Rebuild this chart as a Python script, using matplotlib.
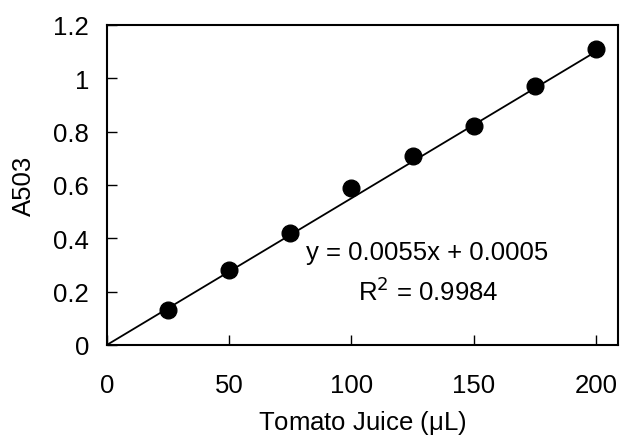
import matplotlib
matplotlib.use("Agg")
import matplotlib.pyplot as plt

plt.rcParams['font.family'] = ['Liberation Sans', 'DejaVu Sans']

x_vals = [25, 50, 75, 100, 125, 150, 175, 200]
y_vals = [0.13, 0.28, 0.42, 0.59, 0.71, 0.82, 0.97, 1.11]
slope = 0.0055
intercept = 0.0005
r2 = 0.9984
x_ticks = [0, 50, 100, 150, 200]
y_ticks = [0, 0.2, 0.4, 0.6, 0.8, 1, 1.2]
y_tick_labels = ['0', '0.2', '0.4', '0.6', '0.8', '1', '1.2']

FS = 18.5

fig = plt.figure(figsize=(6.2, 4.39), dpi=100)
ax = fig.add_axes([107/620, 1 - 346/439, (618-107)/620, (346-26)/439])

line_x = [0, 200]
line_y = [slope * v + intercept for v in line_x]
ax.plot(line_x, line_y, color='black', lw=1.3, zorder=2)
ax.plot(x_vals, y_vals, 'o', color='black', markersize=12, zorder=3)

ax.set_xlim(0, 209)
ax.set_ylim(0, 1.2)
ax.set_xticks(x_ticks)
ax.set_xticklabels([str(t) for t in x_ticks])
ax.set_yticks(y_ticks)
ax.set_yticklabels(y_tick_labels)
ax.tick_params(direction='in', length=7, width=1, labelsize=FS, top=False, right=False)
ax.tick_params(axis='x', pad=20)
ax.tick_params(axis='y', pad=13)
for s in ax.spines.values():
    s.set_linewidth(1.5)

ax.set_xlabel('Tomato Juice ($\\mathregular{\\mu}$L)', fontsize=FS, labelpad=8)
ax.set_ylabel('A503', fontsize=FS, labelpad=12)

ax.text(0.627, 0.29, 'y = 0.0055x + 0.0005', transform=ax.transAxes,
        ha='center', va='center', fontsize=FS)
ax.text(0.629, 0.169, 'R$^2$ = 0.9984', transform=ax.transAxes,
        ha='center', va='center', fontsize=FS)

fig.savefig('out.png', dpi=100)
